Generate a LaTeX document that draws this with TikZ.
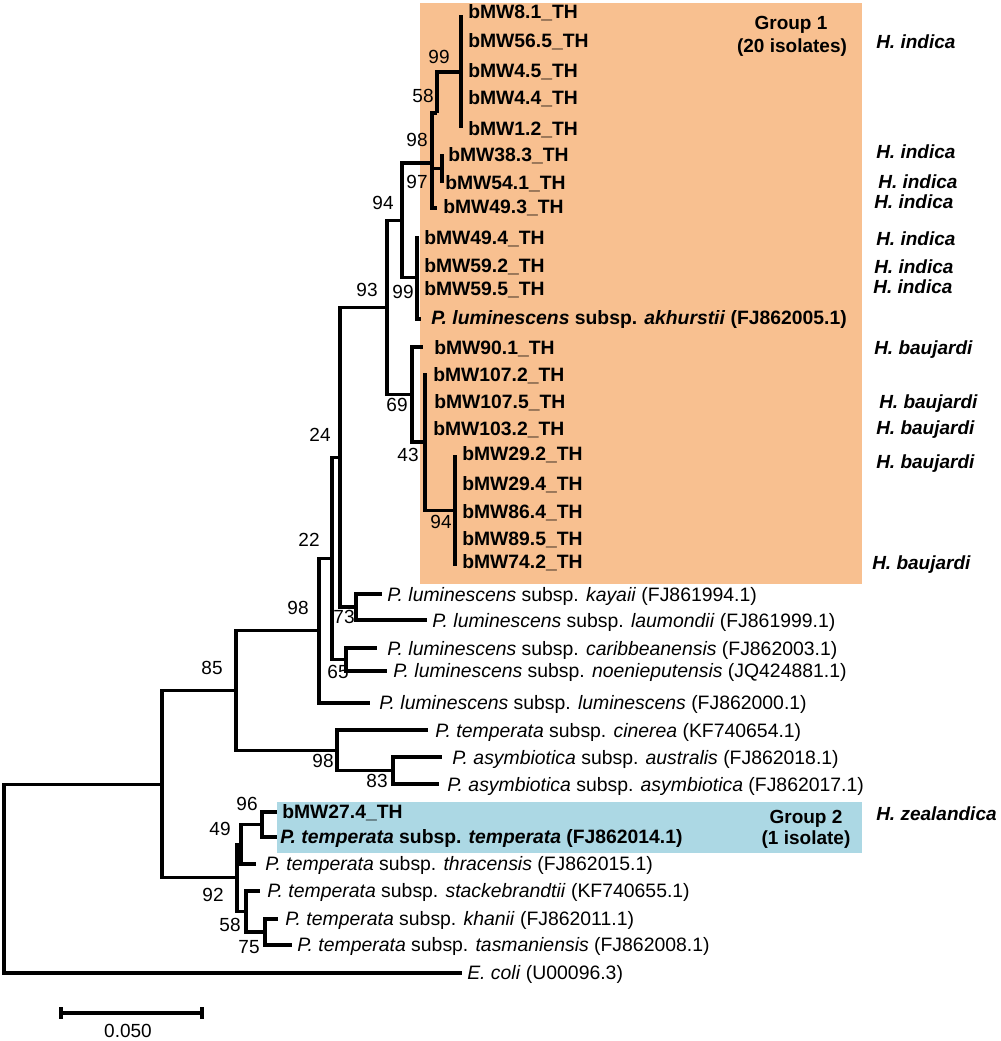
\documentclass[tikz,border=0pt]{standalone}
\usepackage{fontspec}
\setmainfont{Liberation Sans}
\definecolor{orangebox}{RGB}{248,192,144}
\definecolor{bluebox}{RGB}{172,216,228}
\begin{document}
\begin{tikzpicture}[x=0.75pt,y=-0.75pt,
  br/.style={line width=2.3pt, line join=miter},
  txt/.style={inner sep=0pt, text height=10.2pt, text depth=0pt, font=\fontsize{14.25}{17}\selectfont},
  leaf/.style={txt, anchor=west, font=\fontsize{14.55}{17}\selectfont},
  bleaf/.style={leaf, font=\fontsize{14.5}{17}\selectfont\bfseries},
  host/.style={txt, anchor=west, font=\fontsize{14.25}{17}\selectfont\bfseries\itshape},
  bs/.style={txt, anchor=center},
  grp/.style={txt, anchor=center, font=\fontsize{14.25}{17}\selectfont\bfseries},
]
\useasboundingbox (0,0) rectangle (1000,1041);
% highlight boxes
\fill[orangebox] (420,3) rectangle (862,584);
\fill[bluebox] (277,802) rectangle (862,853);

% ---------- internal nodes ----------
\coordinate (root) at (4,878.6);
\coordinate (nA) at (162,784.2);
\coordinate (n85) at (236,690.4);
\coordinate (n98a) at (319,630.7);
\coordinate (n22) at (332,558.4);
\coordinate (n24) at (340,457.2);
\coordinate (n93) at (387,307.4);
\coordinate (n94a) at (402,220.2);
\coordinate (n97) at (432,163);
\coordinate (n58) at (437,113);
\coordinate (n99a) at (461,72);
\coordinate (nb) at (442,168.5);
\coordinate (n99b) at (417,277.5);
\coordinate (n69) at (412,394.5);
\coordinate (n43) at (425,442);
\coordinate (n94b) at (455,510.5);
\coordinate (n73) at (356,607);
\coordinate (n65) at (346,659.5);
\coordinate (n98b) at (337,750.2);
\coordinate (n83) at (393,770.5);
\coordinate (n92) at (237,877.9);
\coordinate (n49) at (241,844.2);
\coordinate (n96) at (262,824.5);
\coordinate (n58b) at (246,911.5);
\coordinate (n75) at (265,932);

% ---------- branch tips ----------
\coordinate (t1) at (461,15);
\coordinate (t5) at (461,128);
\coordinate (t6) at (442,154);
\coordinate (t7) at (442,183);
\coordinate (t8) at (437,208);
\coordinate (t9) at (417,236);
\coordinate (t12) at (421,319);
\coordinate (t13) at (423,347);
\coordinate (t14) at (425,373);
\coordinate (t17) at (455,455);
\coordinate (t21) at (455,566);
\coordinate (t22) at (382,594);
\coordinate (t23) at (427,620);
\coordinate (t24) at (377,648);
\coordinate (t25) at (387,671);
\coordinate (t26) at (370,703);
\coordinate (t27) at (428,730);
\coordinate (t28) at (442,757);
\coordinate (t29) at (439,784);
\coordinate (t30) at (277,812);
\coordinate (t31) at (277,837);
\coordinate (t32) at (256,864);
\coordinate (t33) at (260,891);
\coordinate (t34) at (278,919);
\coordinate (t35) at (292,945);
\coordinate (t36) at (462,973);

% ---------- branches ----------
\draw[br] (root) |- (nA);  \draw[br] (root) |- (t36);
\draw[br] (nA) |- (n85);   \draw[br] (nA) |- (n92);
\draw[br] (n85) |- (n98a); \draw[br] (n85) |- (n98b);
\draw[br] (n98a) |- (n22); \draw[br] (n98a) |- (t26);
\draw[br] (n22) |- (n24);  \draw[br] (n22) |- (n65);
\draw[br] (n24) |- (n93);  \draw[br] (n24) |- (n73);
\draw[br] (n93) |- (n94a); \draw[br] (n93) |- (n69);
\draw[br] (n94a) |- (n97); \draw[br] (n94a) |- (n99b);
\draw[br] (n97) |- (n58);  \draw[br] (n97) |- (t8);
\draw[br] (n97) |- (nb);   \draw[br] (nb) |- (t6); \draw[br] (nb) |- (t7);
\draw[br] (n58) |- (n99a);
\draw[br] (n99a) |- (t1);  \draw[br] (n99a) |- (t5);
\draw[br] (n99b) |- (t9);  \draw[br] (n99b) |- (t12);
\draw[br] (n69) |- (t13);  \draw[br] (n69) |- (n43);
\draw[br] (n43) |- (t14);  \draw[br] (n43) |- (n94b);
\draw[br] (n94b) |- (t17); \draw[br] (n94b) |- (t21);
\draw[br] (n73) |- (t22);  \draw[br] (n73) |- (t23);
\draw[br] (n65) |- (t24);  \draw[br] (n65) |- (t25);
\draw[br] (n98b) |- (t27); \draw[br] (n98b) |- (n83);
\draw[br] (n83) |- (t28);  \draw[br] (n83) |- (t29);
\draw[br] (n92) |- (n49);  \draw[br] (n92) |- (n58b);
\draw[br] (n49) |- (n96);  \draw[br] (n49) |- (t32);
\draw[br] (n96) |- (t30);  \draw[br] (n96) |- (t31);
\draw[br] (n58b) |- (t33); \draw[br] (n58b) |- (n75);
\draw[br] (n75) |- (t34);  \draw[br] (n75) |- (t35);

% ---------- leaf labels ----------
\node[bleaf] (L1) at (468,12) {bMW8.1\_TH};
\node[bleaf] (L2) at (468,41) {bMW56.5\_TH};
\node[bleaf] (L3) at (468,71) {bMW4.5\_TH};
\node[bleaf] (L4) at (468,98) {bMW4.4\_TH};
\node[bleaf] (L5) at (468,129) {bMW1.2\_TH};
\node[bleaf] (L6) at (448,155) {bMW38.3\_TH};
\node[bleaf] (L7) at (445,183) {bMW54.1\_TH};
\node[bleaf] (L8) at (443,207) {bMW49.3\_TH};
\node[bleaf] (L9) at (424,238) {bMW49.4\_TH};
\node[bleaf] (L10) at (424,266) {bMW59.2\_TH};
\node[bleaf] (L11) at (424,289) {bMW59.5\_TH};
\node[bleaf] (L12) at (431,318) {\textit{P. luminescens} subsp. \textit{akhurstii} (FJ862005.1)};
\node[bleaf] (L13) at (434,348) {bMW90.1\_TH};
\node[bleaf] (L14) at (433,375) {bMW107.2\_TH};
\node[bleaf] (L15) at (434,402) {bMW107.5\_TH};
\node[bleaf] (L16) at (433,429) {bMW103.2\_TH};
\node[bleaf] (L17) at (462,454) {bMW29.2\_TH};
\node[bleaf] (L18) at (462,484) {bMW29.4\_TH};
\node[bleaf] (L19) at (462,512) {bMW86.4\_TH};
\node[bleaf] (L20) at (462,539) {bMW89.5\_TH};
\node[bleaf] (L21) at (462,562) {bMW74.2\_TH};
\node[leaf] (L22) at (387,595) {\textit{P. luminescens} subsp. \textit{kayaii} (FJ861994.1)};
\node[leaf] (L23) at (432,621) {\textit{P. luminescens} subsp. \textit{laumondii} (FJ861999.1)};
\node[leaf] (L24) at (387,649) {\textit{P. luminescens} subsp. \textit{caribbeanensis} (FJ862003.1)};
\node[leaf] (L25) at (393,671) {\textit{P. luminescens} subsp. \textit{noenieputensis} (JQ424881.1)};
\node[leaf] (L26) at (379,703) {\textit{P. luminescens} subsp. \textit{luminescens} (FJ862000.1)};
\node[leaf] (L27) at (435,731) {\textit{P. temperata} subsp. \textit{cinerea} (KF740654.1)};
\node[leaf] (L28) at (452,758) {\textit{P. asymbiotica} subsp. \textit{australis} (FJ862018.1)};
\node[leaf] (L29) at (447,785) {\textit{P. asymbiotica} subsp. \textit{asymbiotica} (FJ862017.1)};
\node[bleaf] (L30) at (282,812) {bMW27.4\_TH};
\node[bleaf] (L31) at (280,837) {\textit{P. temperata} subsp. \textit{temperata} (FJ862014.1)};
\node[leaf] (L32) at (265,864) {\textit{P. temperata} subsp. \textit{thracensis} (FJ862015.1)};
\node[leaf] (L33) at (267,891) {\textit{P. temperata} subsp. \textit{stackebrandtii} (KF740655.1)};
\node[leaf] (L34) at (285,919) {\textit{P. temperata} subsp. \textit{khanii} (FJ862011.1)};
\node[leaf] (L35) at (297,945) {\textit{P. temperata} subsp. \textit{tasmaniensis} (FJ862008.1)};
\node[leaf] (L36) at (467,973) {\textit{E. coli} (U00096.3)};

% ---------- bootstrap values ----------
\node[bs] (b99a) at (439,57) {99};
\node[bs] (b58) at (423,96) {58};
\node[bs] (b98) at (417,140) {98};
\node[bs] (b97) at (417,182) {97};
\node[bs] (b94a) at (383,203) {94};
\node[bs] (b99b) at (403,292) {99};
\node[bs] (b93) at (367,290) {93};
\node[bs] (b69) at (397,405) {69};
\node[bs] (b43) at (408,455) {43};
\node[bs] (b94b) at (441,522) {94};
\node[bs] (b24) at (320,435) {24};
\node[bs] (b22) at (309,540) {22};
\node[bs] (b73) at (344,617) {73};
\node[bs] (b65) at (338,672) {65};
\node[bs] (b98a) at (298,608) {98};
\node[bs] (b85) at (212,668) {85};
\node[bs] (b98b) at (323,761) {98};
\node[bs] (b83) at (377,781) {83};
\node[bs] (b96) at (247,804) {96};
\node[bs] (b49) at (220,829) {49};
\node[bs] (b92) at (213,895) {92};
\node[bs] (b58b) at (230,925) {58};
\node[bs] (b75) at (249,947) {75};

% ---------- group labels ----------
\node[grp] (g1a) at (791,23) {Group 1};
\node[grp] (g1b) at (792,46) {(20 isolates)};
\node[grp] (g2a) at (806,817) {Group 2};
\node[grp] (g2b) at (806,838) {(1 isolate)};

% ---------- host labels ----------
\node[host] (h1) at (876,42) {H. indica};
\node[host] (h2) at (876,152) {H. indica};
\node[host] (h3) at (878,182) {H. indica};
\node[host] (h4) at (874,202) {H. indica};
\node[host] (h5) at (876,239) {H. indica};
\node[host] (h6) at (874,267) {H. indica};
\node[host] (h7) at (873,287) {H. indica};
\node[host] (h8) at (874,348) {H. baujardi};
\node[host] (h9) at (879,402) {H. baujardi};
\node[host] (h10) at (876,428) {H. baujardi};
\node[host] (h11) at (876,462) {H. baujardi};
\node[host] (h12) at (872,563) {H. baujardi};
\node[host] (h13) at (876,814) {H. zealandica};

% ---------- scale bar ----------
\coordinate (sbL) at (61,1013);
\coordinate (sbR) at (202,1013);
\coordinate (sbLt) at (61,1007);
\coordinate (sbLb) at (61,1019);
\coordinate (sbRt) at (202,1007);
\coordinate (sbRb) at (202,1019);
\draw[br] (sbL) -- (sbR);
\draw[br] (sbLt) -- (sbLb);
\draw[br] (sbRt) -- (sbRb);
\node[bs] (sbtxt) at (128,1031) {0.050};
\end{tikzpicture}
\end{document}
